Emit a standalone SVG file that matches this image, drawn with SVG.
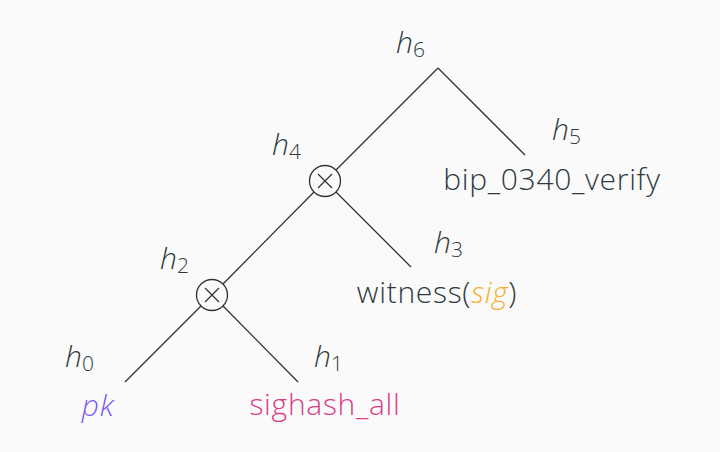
<svg xmlns="http://www.w3.org/2000/svg" width="720" height="452" viewBox="0 0 720 452">
<style>
.t{font-family:"Open Sans","Lato","Liberation Sans",sans-serif;font-weight:300;font-size:30px;letter-spacing:0.7px;fill:#2e3a42}
.h{font-family:"Open Sans","Lato","Liberation Sans",sans-serif;font-weight:300;font-size:30px;fill:#2e3a42}
.i{font-style:italic}
.s{font-size:21px}
.e{stroke:#333;stroke-width:1.3;fill:none}
.c{stroke:#333;stroke-width:1.3;fill:none}
</style>
<rect width="720" height="452" fill="#fafafa"/>
<g id="connectors">
<path class="e" d="M438 68 L336 170"/>
<path class="e" d="M438 68 L525 155"/>
<path class="e" d="M314 192 L223 284"/>
<path class="e" d="M336 192 L411 267"/>
<path class="e" d="M201 306 L125 382"/>
<path class="e" d="M223 306 L298 382"/>
</g>
<g id="h6"><text class="h" x="396" y="53"><tspan class="i">h</tspan><tspan class="s" dy="4">6</tspan></text></g>
<g id="h4">
<text class="h" x="272" y="155"><tspan class="i">h</tspan><tspan class="s" dy="4">4</tspan></text>
<circle class="c" cx="325" cy="181" r="15.5"/>
<path class="c" d="M318 174 L332 188 M332 174 L318 188"/>
</g>
<g id="h2">
<text class="h" x="160" y="269"><tspan class="i">h</tspan><tspan class="s" dy="4">2</tspan></text>
<circle class="c" cx="212" cy="295" r="15.5"/>
<path class="c" d="M205 288 L219 302 M219 288 L205 302"/>
</g>
<g id="h5">
<text class="h" x="552" y="140"><tspan class="i">h</tspan><tspan class="s" dy="4">5</tspan></text>
<text class="t" x="552" y="190" text-anchor="middle">bip_0340_verify</text>
</g>
<g id="h3">
<text class="h" x="434" y="253"><tspan class="i">h</tspan><tspan class="s" dy="4">3</tspan></text>
<text class="t" x="437" y="303" text-anchor="middle">witness(<tspan class="i" style="fill:#f2b134">sig</tspan>)</text>
</g>
<g id="h0">
<text class="h" x="65" y="367"><tspan class="i">h</tspan><tspan class="s" dy="4">0</tspan></text>
<text class="t i" x="98" y="416" text-anchor="middle" style="fill:#7b5cf0">pk</text>
</g>
<g id="h1">
<text class="h" x="314" y="367"><tspan class="i">h</tspan><tspan class="s" dy="4">1</tspan></text>
<text class="t" x="325" y="415" text-anchor="middle" style="fill:#d6408a">sighash_all</text>
</g>
</svg>
